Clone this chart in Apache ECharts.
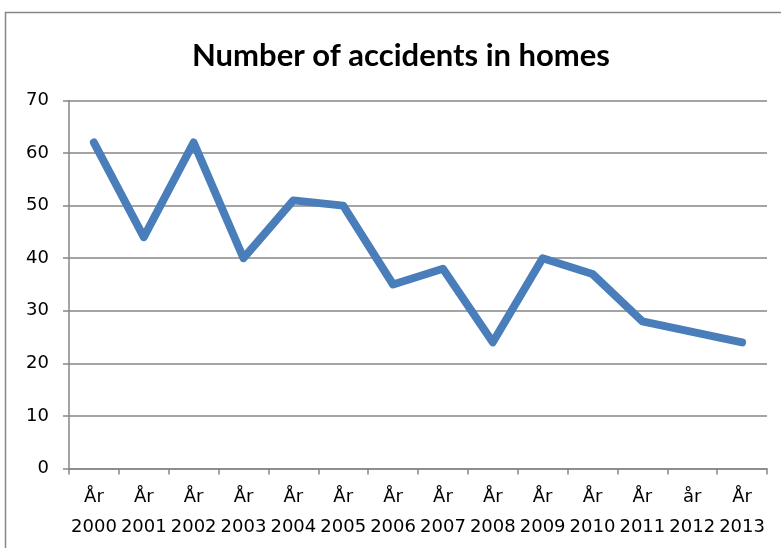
<!DOCTYPE html>
<html>
<head>
<meta charset="utf-8">
<script src="https://cdn.jsdelivr.net/npm/echarts@6/dist/echarts.min.js"></script>
<style>
html,body{margin:0;padding:0;background:#fff;}
#chart{width:781px;height:548px;}
</style>
</head>
<body>
<div id="chart"></div>
<script>
var categories = ['År\n2000','År\n2001','År\n2002','År\n2003','År\n2004','År\n2005','År\n2006','År\n2007','År\n2008','År\n2009','År\n2010','År\n2011','år\n2012','År\n2013'];
var accidents = [62, 44, 62, 40, 51, 50, 35, 38, 24, 40, 37, 28, 26, 24];
var titleText = 'Number of accidents in homes';

var chart = echarts.init(document.getElementById('chart'), null, {renderer:'canvas'});
var font = 'Lato, "Open Sans", sans-serif';
var labelFont = '"DejaVu Sans", sans-serif';
chart.setOption({
  animation: false,
  backgroundColor: '#fff',
  graphic: [{
    type: 'rect',
    shape: {x: 5.5, y: 12.5, width: 800, height: 600},
    style: {fill: 'none', stroke: '#868686', lineWidth: 1.5},
    silent: true
  }],
  title: {
    text: titleText,
    left: 187,
    top: 35,
    textStyle: {fontFamily: font, fontWeight: 'bold', fontSize: 31, color: '#000'}
  },
  grid: {left: 69, right: 14, top: 100.5, bottom: 79.5, containLabel: false},
  xAxis: {
    type: 'category',
    data: categories,
    boundaryGap: true,
    axisLine: {lineStyle: {color: '#868686', width: 1.5}},
    axisTick: {show: true, length: 6, lineStyle: {color: '#868686', width: 1.5}},
    axisLabel: {fontFamily: labelFont, fontSize: 18, color: '#000', margin: 14, lineHeight: 30, interval: 0}
  },
  yAxis: {
    type: 'value',
    min: 0, max: 70, interval: 10,
    axisLine: {show: true, lineStyle: {color: '#868686', width: 1.5}},
    axisTick: {show: true, length: 6, lineStyle: {color: '#868686', width: 1.5}},
    splitLine: {lineStyle: {color: '#868686', width: 1.5}},
    axisLabel: {fontFamily: labelFont, fontSize: 18, color: '#000', margin: 20}
  },
  series: [{
    type: 'line',
    data: accidents,
    symbol: 'none',
    lineStyle: {color: '#4a7ebb', width: 8, cap: 'round', join: 'round'}
  }]
});
</script>
</body>
</html>
